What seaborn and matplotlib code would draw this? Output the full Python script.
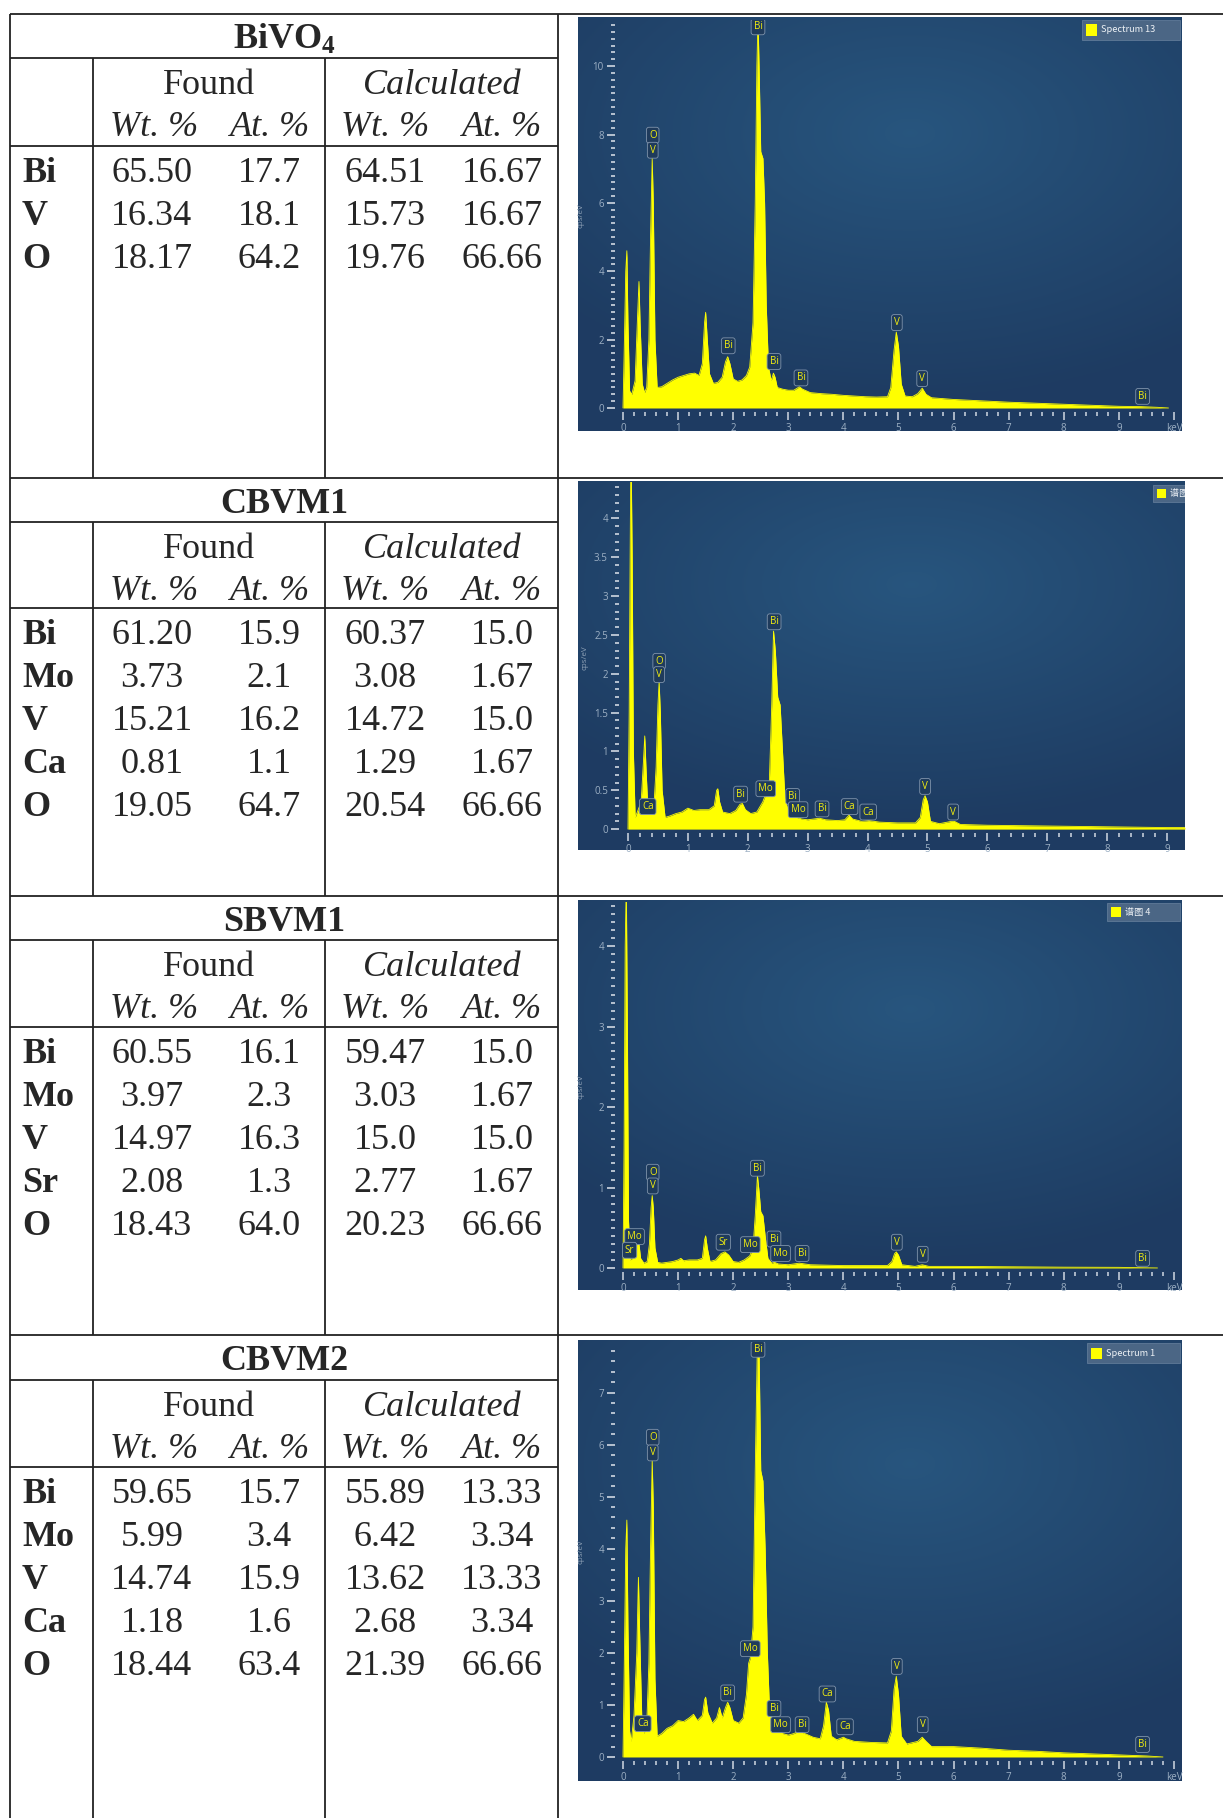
import numpy as np
import matplotlib
matplotlib.use("Agg")
import matplotlib.pyplot as plt
import seaborn as sns
from matplotlib.patches import Rectangle

# ---------------- table data ----------------
bivo4_elements = ["Bi", "V", "O"]
bivo4_found_wt = ["65.50", "16.34", "18.17"]
bivo4_found_at = ["17.7", "18.1", "64.2"]
bivo4_calc_wt = ["64.51", "15.73", "19.76"]
bivo4_calc_at = ["16.67", "16.67", "66.66"]

cbvm1_elements = ["Bi", "Mo", "V", "Ca", "O"]
cbvm1_found_wt = ["61.20", "3.73", "15.21", "0.81", "19.05"]
cbvm1_found_at = ["15.9", "2.1", "16.2", "1.1", "64.7"]
cbvm1_calc_wt = ["60.37", "3.08", "14.72", "1.29", "20.54"]
cbvm1_calc_at = ["15.0", "1.67", "15.0", "1.67", "66.66"]

sbvm1_elements = ["Bi", "Mo", "V", "Sr", "O"]
sbvm1_found_wt = ["60.55", "3.97", "14.97", "2.08", "18.43"]
sbvm1_found_at = ["16.1", "2.3", "16.3", "1.3", "64.0"]
sbvm1_calc_wt = ["59.47", "3.03", "15.0", "2.77", "20.23"]
sbvm1_calc_at = ["15.0", "1.67", "15.0", "1.67", "66.66"]

cbvm2_elements = ["Bi", "Mo", "V", "Ca", "O"]
cbvm2_found_wt = ["59.65", "5.99", "14.74", "1.18", "18.44"]
cbvm2_found_at = ["15.7", "3.4", "15.9", "1.6", "63.4"]
cbvm2_calc_wt = ["55.89", "6.42", "13.62", "2.68", "21.39"]
cbvm2_calc_at = ["13.33", "3.34", "13.33", "3.34", "66.66"]

sample_titles = [r"$\mathbf{BiVO_4}$", "CBVM1", "SBVM1", "CBVM2"]

# ---------------- spectra data ----------------
s1_kev = [0.00, 0.02, 0.05, 0.07, 0.09, 0.12, 0.16, 0.22, 0.26, 0.29, 0.31, 0.35, 0.39, 0.43, 0.47, 0.50,
          0.53, 0.55, 0.58, 0.62, 0.70, 0.80, 0.90, 1.00, 1.10, 1.20, 1.30, 1.38, 1.44, 1.48, 1.50, 1.53,
          1.57, 1.64, 1.72, 1.80, 1.86, 1.90, 1.94, 2.00, 2.08, 2.16, 2.24, 2.30, 2.36, 2.40, 2.43, 2.45,
          2.47, 2.50, 2.54, 2.57, 2.60, 2.64, 2.69, 2.73, 2.76, 2.80, 2.90, 3.00, 3.10, 3.20, 3.26, 3.40,
          3.60, 3.80, 4.00, 4.20, 4.40, 4.60, 4.80, 4.86, 4.92, 4.96, 5.00, 5.05, 5.12, 5.25, 5.35, 5.43,
          5.50, 5.60, 6.00, 6.50, 7.00, 7.50, 8.00, 8.50, 9.00, 9.40, 9.70, 9.90]
s1_cps = [0.0, 1.5, 4.0, 4.6, 2.5, 0.5, 0.4, 0.8, 2.5, 3.7, 2.5, 0.7, 0.45, 0.6, 2.0, 5.0,
          7.3, 6.0, 2.0, 0.6, 0.62, 0.72, 0.82, 0.9, 0.95, 1.0, 1.02, 0.95, 1.3, 2.5, 2.8, 2.0,
          1.0, 0.72, 0.75, 0.9, 1.35, 1.5, 1.3, 0.85, 0.78, 0.82, 0.95, 1.2, 2.5, 6.0, 10.0, 11.4,
          10.0, 7.5, 7.3, 6.0, 3.0, 1.2, 0.8, 1.02, 0.9, 0.6, 0.55, 0.52, 0.52, 0.62, 0.55, 0.45,
          0.42, 0.4, 0.37, 0.35, 0.33, 0.32, 0.33, 0.6, 1.7, 2.22, 1.8, 0.7, 0.35, 0.33, 0.42, 0.58,
          0.4, 0.3, 0.25, 0.21, 0.17, 0.14, 0.11, 0.08, 0.05, 0.04, 0.02, 0.0]

s2_kev = [0.00, 0.02, 0.04, 0.05, 0.07, 0.09, 0.12, 0.17, 0.22, 0.26, 0.28, 0.30, 0.33, 0.38, 0.43, 0.47,
          0.50, 0.52, 0.54, 0.57, 0.62, 0.70, 0.80, 0.90, 1.00, 1.10, 1.20, 1.35, 1.44, 1.48, 1.50, 1.53,
          1.58, 1.70, 1.80, 1.87, 1.91, 1.96, 2.05, 2.15, 2.25, 2.30, 2.36, 2.40, 2.43, 2.46, 2.50, 2.54,
          2.58, 2.62, 2.68, 2.75, 2.82, 2.90, 3.00, 3.20, 3.30, 3.50, 3.62, 3.69, 3.75, 3.90, 4.02, 4.20,
          4.50, 4.80, 4.88, 4.93, 4.96, 5.00, 5.05, 5.20, 5.40, 5.45, 5.55, 6.00, 7.00, 8.00, 9.00, 9.30]
s2_cps = [0.0, 1.5, 4.0, 5.0, 3.5, 1.0, 0.15, 0.25, 0.35, 0.9, 1.2, 0.8, 0.3, 0.2, 0.25, 0.8,
          1.6, 1.9, 1.5, 0.5, 0.15, 0.17, 0.2, 0.22, 0.27, 0.24, 0.25, 0.25, 0.3, 0.5, 0.52, 0.35,
          0.22, 0.2, 0.24, 0.32, 0.33, 0.25, 0.2, 0.22, 0.35, 0.45, 0.6, 1.6, 2.55, 2.3, 1.7, 1.6,
          1.0, 0.4, 0.22, 0.2, 0.15, 0.13, 0.12, 0.14, 0.12, 0.11, 0.12, 0.18, 0.13, 0.1, 0.11, 0.09,
          0.08, 0.08, 0.15, 0.38, 0.43, 0.35, 0.1, 0.07, 0.1, 0.1, 0.06, 0.05, 0.04, 0.03, 0.02, 0.02]

s3_kev = [0.00, 0.02, 0.04, 0.06, 0.08, 0.10, 0.13, 0.17, 0.22, 0.25, 0.27, 0.29, 0.32, 0.38, 0.44, 0.48,
          0.51, 0.53, 0.55, 0.58, 0.63, 0.70, 0.80, 0.90, 1.00, 1.05, 1.10, 1.20, 1.35, 1.44, 1.48, 1.50,
          1.53, 1.58, 1.68, 1.78, 1.85, 1.92, 2.00, 2.10, 2.20, 2.30, 2.36, 2.40, 2.44, 2.47, 2.50, 2.54,
          2.58, 2.63, 2.70, 2.75, 2.82, 3.00, 3.20, 3.40, 4.00, 4.50, 4.80, 4.88, 4.93, 4.96, 5.00, 5.06,
          5.30, 5.43, 5.55, 6.00, 7.00, 8.00, 9.00, 9.70]
s3_cps = [0.0, 1.5, 4.0, 4.8, 3.0, 0.6, 0.1, 0.12, 0.2, 0.3, 0.36, 0.3, 0.12, 0.06, 0.08, 0.3,
          0.75, 0.9, 0.75, 0.25, 0.07, 0.06, 0.07, 0.08, 0.1, 0.12, 0.09, 0.1, 0.1, 0.12, 0.35, 0.4,
          0.25, 0.08, 0.1, 0.18, 0.2, 0.16, 0.08, 0.07, 0.1, 0.15, 0.25, 0.65, 1.15, 0.95, 0.7, 0.65,
          0.4, 0.12, 0.06, 0.07, 0.05, 0.04, 0.06, 0.04, 0.03, 0.03, 0.03, 0.08, 0.18, 0.2, 0.16, 0.04,
          0.02, 0.04, 0.02, 0.02, 0.015, 0.01, 0.008, 0.0]

s4_kev = [0.00, 0.02, 0.05, 0.07, 0.09, 0.12, 0.15, 0.20, 0.25, 0.28, 0.30, 0.34, 0.38, 0.43, 0.47, 0.50,
          0.53, 0.55, 0.58, 0.62, 0.70, 0.80, 0.90, 1.00, 1.10, 1.20, 1.28, 1.35, 1.44, 1.48, 1.50, 1.54,
          1.62, 1.70, 1.75, 1.80, 1.86, 1.90, 1.94, 2.00, 2.10, 2.18, 2.24, 2.28, 2.31, 2.36, 2.40, 2.44,
          2.47, 2.50, 2.54, 2.58, 2.62, 2.66, 2.72, 2.76, 2.82, 2.90, 3.00, 3.10, 3.20, 3.30, 3.45, 3.58,
          3.64, 3.69, 3.73, 3.78, 3.88, 4.00, 4.05, 4.20, 4.50, 4.80, 4.87, 4.92, 4.96, 5.00, 5.05, 5.15,
          5.35, 5.43, 5.50, 5.60, 6.00, 6.50, 7.00, 7.50, 8.00, 8.50, 9.00, 9.50, 9.80]
s4_cps = [0.0, 1.5, 4.0, 4.55, 2.5, 0.5, 0.3, 0.8, 2.0, 3.45, 2.5, 0.8, 0.45, 0.6, 1.8, 4.0,
          5.7, 4.8, 1.5, 0.4, 0.45, 0.55, 0.6, 0.7, 0.68, 0.75, 0.82, 0.7, 0.8, 1.1, 1.15, 0.85,
          0.65, 0.75, 0.95, 0.75, 0.95, 1.05, 0.95, 0.7, 0.65, 0.75, 1.2, 1.8, 1.9, 2.5, 5.5, 8.0,
          7.8, 5.5, 5.3, 4.0, 2.0, 0.9, 0.7, 0.8, 0.55, 0.45, 0.42, 0.45, 0.5, 0.45, 0.38, 0.35,
          0.6, 1.05, 0.9, 0.4, 0.33, 0.38, 0.35, 0.3, 0.28, 0.27, 0.5, 1.3, 1.55, 1.2, 0.4, 0.25,
          0.3, 0.38, 0.3, 0.2, 0.2, 0.17, 0.13, 0.11, 0.08, 0.06, 0.04, 0.02, 0.0]

# peak labels: element, keV, cps/eV (box centre)
s1_label_el = ["Bi", "O", "V", "Bi", "Bi", "Bi", "V", "V", "Bi"]
s1_label_x = [2.45, 0.54, 0.54, 1.91, 2.74, 3.23, 4.97, 5.43, 9.43]
s1_label_y = [11.15, 7.98, 7.54, 1.82, 1.36, 0.88, 2.50, 0.86, 0.34]

s2_label_el = ["Bi", "O", "V", "Ca", "Bi", "Mo", "Bi", "Mo", "Bi", "Ca", "Ca", "V", "V"]
s2_label_x = [2.44, 0.52, 0.52, 0.33, 1.88, 2.30, 2.75, 2.84, 3.24, 3.70, 4.01, 4.96, 5.43]
s2_label_y = [2.67, 2.16, 1.99, 0.29, 0.45, 0.52, 0.42, 0.25, 0.26, 0.29, 0.22, 0.55, 0.22]

s3_label_el = ["Mo", "Sr", "O", "V", "Sr", "Mo", "Bi", "Bi", "Mo", "Bi", "V", "V", "Bi"]
s3_label_x = [0.21, 0.12, 0.54, 0.54, 1.82, 2.31, 2.44, 2.74, 2.86, 3.25, 4.97, 5.44, 9.43]
s3_label_y = [0.39, 0.22, 1.19, 1.02, 0.32, 0.29, 1.24, 0.36, 0.18, 0.18, 0.32, 0.17, 0.12]

s4_label_el = ["Bi", "O", "V", "Ca", "Bi", "Mo", "Bi", "Mo", "Bi", "Ca", "Ca", "V", "V", "Bi"]
s4_label_x = [2.45, 0.54, 0.54, 0.36, 1.90, 2.31, 2.74, 2.86, 3.25, 3.71, 4.03, 4.97, 5.44, 9.43]
s4_label_y = [7.83, 6.14, 5.84, 0.64, 1.23, 2.08, 0.93, 0.62, 0.62, 1.21, 0.58, 1.74, 0.62, 0.24]

legend_texts = ["Spectrum 13", "谱图 2", "谱图 4", "Spectrum 1"]

# ---------------- styling ----------------
sns.set_theme(style="white")
plt.rcParams['font.family'] = ['Liberation Serif', 'DejaVu Serif']
plt.rcParams['mathtext.fontset'] = 'custom'
plt.rcParams['mathtext.rm'] = 'Liberation Serif'
plt.rcParams['mathtext.bf'] = 'Liberation Serif:bold'
plt.rcParams['mathtext.it'] = 'Liberation Serif:italic'

W, H = 1223, 1818
fig = plt.figure(figsize=(W / 100, H / 100), dpi=100)
fig.patch.set_facecolor('white')

tab = fig.add_axes([0, 0, 1, 1])
tab.set_xlim(0, W)
tab.set_ylim(H, 0)
tab.axis('off')

LINE = dict(color='#222222', lw=1.3, solid_capstyle='butt')
FS = 26
X_LEFT, X_COL1, X_MID, X_DIV = 10, 93, 325, 558
sec_top = [14, 478, 896, 1335]
sec_title_line = [58, 522, 940, 1380]
sec_head_line = [146, 608, 1027, 1467]
sec_bottom = [478, 896, 1335, 1818]

tables = [
    (bivo4_elements, bivo4_found_wt, bivo4_found_at, bivo4_calc_wt, bivo4_calc_at),
    (cbvm1_elements, cbvm1_found_wt, cbvm1_found_at, cbvm1_calc_wt, cbvm1_calc_at),
    (sbvm1_elements, sbvm1_found_wt, sbvm1_found_at, sbvm1_calc_wt, sbvm1_calc_at),
    (cbvm2_elements, cbvm2_found_wt, cbvm2_found_at, cbvm2_calc_wt, cbvm2_calc_at),
]
col_x = [152, 269, 385, 502]
hdr_x = [154, 270, 385, 502]
BASE = 12  # baseline offset below visual centre

tab.plot([X_LEFT, X_LEFT], [sec_top[0], H], **LINE)
tab.plot([X_DIV, X_DIV], [sec_top[0], H], **LINE)
for i in range(4):
    t, tl, hl, b = sec_top[i], sec_title_line[i], sec_head_line[i], sec_bottom[i]
    tab.plot([X_LEFT, W], [t, t], **LINE)
    tab.plot([X_LEFT, X_DIV], [tl, tl], **LINE)
    tab.plot([X_COL1, X_DIV], [hl, hl], **LINE)
    tab.plot([X_LEFT, X_COL1], [hl, hl], **LINE)
    tab.plot([X_COL1, X_COL1], [tl, b], **LINE)
    tab.plot([X_MID, X_MID], [tl, b], **LINE)

    tab.text((X_LEFT + X_DIV) / 2, t + 23 + BASE, sample_titles[i], ha='center', va='baseline',
             fontsize=FS, fontweight='bold')
    tab.text(209, tl + 24 + BASE, "Found", ha='center', va='baseline', fontsize=FS)
    tab.text(442, tl + 24 + BASE, "Calculated", ha='center', va='baseline', fontsize=FS, style='italic')
    for hx, lab in zip(hdr_x, ["Wt. %", "At. %", "Wt. %", "At. %"]):
        tab.text(hx, tl + 66 + BASE, lab, ha='center', va='baseline', fontsize=FS, style='italic')

    els, fw, fa, cw, ca = tables[i]
    for r, el in enumerate(els):
        yc = hl + 24 + r * 43
        tab.text(22, yc + BASE, el, ha='left', va='baseline', fontsize=FS, fontweight='bold')
        for cx, vals in zip(col_x, [fw, fa, cw, ca]):
            tab.text(cx, yc + BASE, vals[r], ha='center', va='baseline', fontsize=FS)

# ---------------- spectra panels ----------------
def px_rect(l, t, r, b):
    return [l / W, 1 - b / H, (r - l) / W, (b - t) / H]

gx, gy = np.meshgrid(np.linspace(0, 1, 300), np.linspace(0, 1, 300))
dist = np.sqrt(((gx - 0.55) / 1.0) ** 2 + ((gy - 0.28) / 0.85) ** 2)
tt = np.clip(dist / 0.75, 0, 1)[..., None]
c_center = np.array([0.155, 0.335, 0.495])
c_edge = np.array([0.118, 0.235, 0.385])
grad = c_center * (1 - tt) + c_edge * tt

panels = [
    dict(bg=(578, 17, 1182, 431), ax=(615, 20, 1174, 412), xlim=(-0.145, 10.0), ylim=(-0.117, 11.35),
         ymaj=np.arange(0, 11, 2), ymin=0.2, keV=True, leg=(1082, 20, 1180, 40),
         kev=s1_kev, cps=s1_cps, lel=s1_label_el, lx=s1_label_x, ly=s1_label_y),
    dict(bg=(578, 481, 1185, 850), ax=(619, 482, 1185, 833), xlim=(-0.15, 9.30), ylim=(-0.05, 4.47),
         ymaj=np.arange(0, 4.01, 0.5), ymin=0.1, keV=False, leg=(1153, 485, 1195, 502),
         kev=s2_kev, cps=s2_cps, lel=s2_label_el, lx=s2_label_x, ly=s2_label_y),
    dict(bg=(578, 900, 1182, 1290), ax=(615, 902, 1174, 1272), xlim=(-0.145, 10.0), ylim=(-0.05, 4.55),
         ymaj=np.arange(0, 5, 1), ymin=0.1, keV=True, leg=(1107, 903, 1180, 921),
         kev=s3_kev, cps=s3_cps, lel=s3_label_el, lx=s3_label_x, ly=s3_label_y),
    dict(bg=(578, 1340, 1182, 1781), ax=(615, 1342, 1174, 1761), xlim=(-0.145, 10.0), ylim=(-0.077, 7.97),
         ymaj=np.arange(0, 8, 1), ymin=0.2, keV=True, leg=(1087, 1343, 1180, 1363),
         kev=s4_kev, cps=s4_cps, lel=s4_label_el, lx=s4_label_x, ly=s4_label_y),
]

TICK_C = '#c2ccd8'
LAB_C = '#9db0c4'
SANS = ['Open Sans', 'DejaVu Sans']

for i, p in enumerate(panels):
    l, t, r, b = p['bg']
    bga = fig.add_axes(px_rect(l, t, r, b))
    bga.imshow(grad, extent=(0, 1, 0, 1), aspect='auto', origin='upper', zorder=0)
    bga.set_xlim(0, 1)
    bga.set_ylim(0, 1)
    bga.axis('off')

    ll, lt, lr, lb = p['leg']
    fx = lambda X: (X - l) / (r - l)
    fy = lambda Y: 1 - (Y - t) / (b - t)
    bga.add_patch(Rectangle((fx(ll), fy(lb)), fx(lr) - fx(ll), fy(lt) - fy(lb),
                            fc='#4b6685', ec='#5f7a98', lw=0.6, clip_on=True, zorder=2))
    sq = (lb - lt) * 0.55
    bga.add_patch(Rectangle((fx(ll + 4), fy((lt + lb) / 2 + sq / 2)), fx(ll + 4 + sq) - fx(ll + 4),
                            fy((lt + lb) / 2 - sq / 2) - fy((lt + lb) / 2 + sq / 2),
                            fc='#ffff00', ec='none', clip_on=True, zorder=3))
    bga.text(fx(ll + 8 + sq), fy((lt + lb) / 2), legend_texts[i], ha='left', va='center',
             fontsize=6.6, color='#eef2f6', family=['Noto Sans CJK SC', 'DejaVu Sans'],
             clip_on=True, zorder=3)

    al, at, ar, ab = p['ax']
    ax = fig.add_axes(px_rect(al, at, ar, ab))
    ax.set_facecolor('none')
    sns.lineplot(x=p['kev'], y=p['cps'], ax=ax, color='#ffff00', linewidth=0.6, estimator=None)
    ax.fill_between(p['kev'], p['cps'], 0, color='#ffff00', lw=0)
    ax.set_xlim(*p['xlim'])
    ax.set_ylim(*p['ylim'])
    for s in ax.spines.values():
        s.set_visible(False)

    xmaj = list(range(0, 11)) if p['keV'] else list(range(0, 10))
    xlabs = [str(v) for v in range(0, 10)] + (["keV"] if p['keV'] else [])
    ax.set_xticks(xmaj)
    ax.set_xticklabels(xlabs)
    ax.set_xticks(np.arange(0, xmaj[-1] + 0.01, 0.2), minor=True)
    ax.set_yticks(p['ymaj'])
    ax.set_yticklabels(["{:g}".format(v) for v in p['ymaj']])
    ax.set_yticks(np.arange(0, p['ylim'][1], p['ymin']), minor=True)
    ax.tick_params(axis='x', which='major', direction='out', length=6, width=1.2, colors=TICK_C,
                   labelcolor=LAB_C, labelsize=7, pad=2, bottom=True)
    ax.tick_params(axis='x', which='minor', direction='out', length=3, width=1.2, colors=TICK_C, bottom=True)
    ax.tick_params(axis='y', which='major', direction='out', length=6, width=1.3, colors=TICK_C,
                   labelcolor=LAB_C, labelsize=7, pad=2, left=True)
    ax.tick_params(axis='y', which='minor', direction='out', length=3, width=1.3, colors=TICK_C, left=True)
    for lab in ax.get_xticklabels() + ax.get_yticklabels():
        lab.set_family(SANS)
    ax.set_xlabel("")
    ax.set_ylabel("cps/eV", fontsize=5.8, color='#8ea1b6', family=SANS)
    ax.yaxis.set_label_coords(-(615 - 587) / (ar - al) - 0.005, 0.5)
    ax.grid(False)

    for el, xk, yk in zip(p['lel'], p['lx'], p['ly']):
        ax.text(xk, yk, el, ha='center', va='center', fontsize=7, color='#f2ee10', family=SANS,
                bbox=dict(boxstyle='round,pad=0.25', fc='#1f3b5c', ec='#7f93ab', lw=0.6),
                clip_on=True, zorder=5)

fig.savefig("out.png", dpi=100, facecolor='white')
